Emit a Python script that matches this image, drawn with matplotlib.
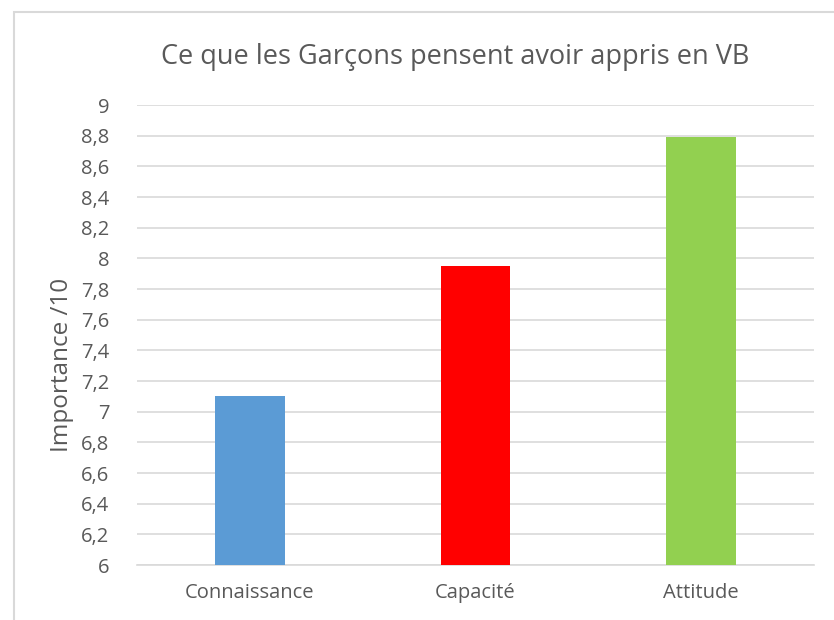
import matplotlib

matplotlib.use("Agg")
import matplotlib.pyplot as plt
from matplotlib.patches import Rectangle
from matplotlib.ticker import FuncFormatter, MultipleLocator

TEXT = "#595959"
GRID = "#d9d9d9"

categories = ["Connaissance", "Capacité", "Attitude"]
values = [7.10, 7.95, 8.79]
colors = ["#5b9bd5", "#ff0000", "#92d050"]

plt.rcParams["font.family"] = ["Open Sans", "DejaVu Sans"]

fig = plt.figure(figsize=(8.34, 6.20), dpi=100, facecolor="white")
# light frame around the chart area, as in the spreadsheet export
fig.patches.append(Rectangle((14 / 834, -0.1), 1.2, 1 - 12 / 620 + 0.1,
                             transform=fig.transFigure, fill=False,
                             edgecolor="#d9d9d9", linewidth=1.5))

ax = fig.add_axes([137 / 834, 1 - 565 / 620, 677 / 834, 460 / 620])
x = range(len(categories))
ax.bar(x, values, width=0.31, color=colors, zorder=3)
ax.set_xlim(-0.5, 2.5)
ax.set_ylim(6, 9)
ax.yaxis.set_major_locator(MultipleLocator(0.2))
ax.yaxis.set_major_formatter(
    FuncFormatter(lambda v, _: f"{v:g}".replace(".", ",")))
ax.grid(axis="y", color=GRID, linewidth=1.2, zorder=0)
for s in ("top", "right", "left"):
    ax.spines[s].set_visible(False)
ax.spines["bottom"].set_color(GRID)
ax.spines["bottom"].set_linewidth(1.2)
ax.tick_params(length=0, colors=TEXT, labelsize=14.5)
ax.tick_params(axis="y", pad=20)
ax.tick_params(axis="x", pad=13)
ax.set_xticks(list(x))
ax.set_xticklabels(categories)
ax.set_ylabel("Importance /10", color=TEXT, fontsize=17.5, va="center")
ax.yaxis.set_label_coords((62 - 137) / 677, (565 - 365) / 460)

fig.text(455 / 834, 1 - 57 / 620, "Ce que les Garçons pensent avoir appris en VB",
         ha="center", va="center", color=TEXT, fontsize=19.5)

fig.savefig("out.png", dpi=100, facecolor="white")
